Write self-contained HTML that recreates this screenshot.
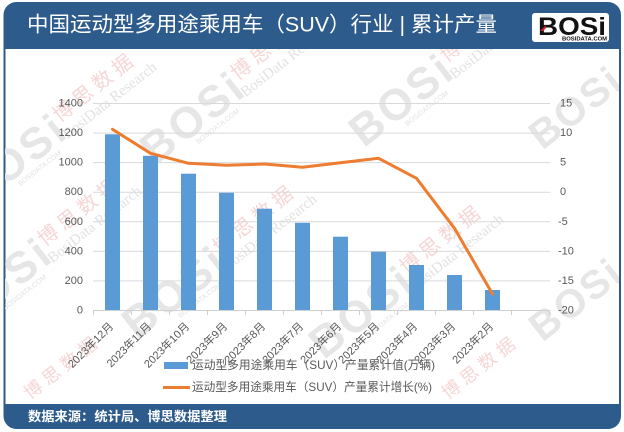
<!DOCTYPE html>
<html><head><meta charset="utf-8"><style>
html,body{margin:0;padding:0;background:#fff;width:624px;height:432px;overflow:hidden;}
svg{display:block;overflow:hidden;}
text{font-family:"Liberation Sans","Noto Sans CJK SC",sans-serif;}
</style></head><body>
<svg width="624" height="432" viewBox="0 0 624 432" xmlns="http://www.w3.org/2000/svg">
<defs>
<clipPath id="wa"><rect x="5" y="49" width="614" height="355"/></clipPath>
<g id="wm">
  <text x="0" y="0" text-anchor="middle" dominant-baseline="central" font-size="44" font-weight="bold" fill="#e6e6e6" letter-spacing="3">BOSi</text>
  <text x="-12" y="24" font-size="7" fill="#e2e2e2">BOSIDATA.COM</text>
  <text x="58" y="-2" font-size="20" fill="#f6d6d6" letter-spacing="5">博思数据</text>
  <text x="54" y="16" font-size="15" fill="#e2e2e2" style="font-family:'Liberation Serif',serif">BosiData Research</text>
</g>
</defs>
<rect width="624" height="432" fill="#fff"/>
<!-- frame -->
<rect x="3.5" y="2" width="617.5" height="427" rx="13" ry="13" fill="#2d5b8c"/>
<rect x="5.5" y="49" width="613.5" height="355" fill="#fff"/>

<!-- watermarks -->
<g clip-path="url(#wa)">
  <use href="#wm" transform="translate(15,160) rotate(-38)"/>
  <use href="#wm" transform="translate(193,118) rotate(-38)"/>
  <use href="#wm" transform="translate(402,100) rotate(-38)"/>
  <use href="#wm" transform="translate(0,284) rotate(-38)"/>
  <use href="#wm" transform="translate(175,292) rotate(-38)"/>
  <use href="#wm" transform="translate(362,312) rotate(-38)"/>
  <text transform="translate(576,108) rotate(-38)" text-anchor="middle" dominant-baseline="central" font-size="40" font-weight="bold" fill="#e6e6e6" letter-spacing="2">BOSi</text>
  <text transform="translate(576,300) rotate(-38)" text-anchor="middle" dominant-baseline="central" font-size="40" font-weight="bold" fill="#e6e6e6" letter-spacing="2">BOSi</text>
  <text transform="translate(448,400) rotate(-38)" font-size="18" fill="#f6d6d6" letter-spacing="5">博思数据</text>
  <text transform="translate(30,400) rotate(-38)" font-size="18" fill="#f6d6d6" letter-spacing="5">博思数据</text>
</g>

<!-- header title -->
<text x="27" y="25" dominant-baseline="central" font-size="21" fill="#fff" textLength="470" lengthAdjust="spacingAndGlyphs">中国运动型多用途乘用车（SUV）行业 | 累计产量</text>
<!-- logo -->
<rect x="532" y="13" width="77" height="29" rx="3" fill="#fff"/>
<text x="538" y="35" font-size="25" font-weight="bold" fill="#111" textLength="68" lengthAdjust="spacingAndGlyphs">BOSi</text>
<path d="M540 31 L546 25 L546 28 L543 31 Z" fill="#c8202a"/>
<text x="562" y="40.5" font-size="5.5" font-weight="bold" fill="#111" textLength="45" lengthAdjust="spacingAndGlyphs">BOSIDATA.COM</text>

<!-- gridlines -->
<g stroke="#d9d9d9" stroke-width="1">
  <line x1="93" x2="550" y1="103.5" y2="103.5"/>
  <line x1="93" x2="550" y1="133.1" y2="133.1"/>
  <line x1="93" x2="550" y1="162.6" y2="162.6"/>
  <line x1="93" x2="550" y1="192.2" y2="192.2"/>
  <line x1="93" x2="550" y1="221.8" y2="221.8"/>
  <line x1="93" x2="550" y1="251.4" y2="251.4"/>
  <line x1="93" x2="550" y1="280.9" y2="280.9"/>
</g>

<!-- bars -->
<g fill="#5b9bd5">
  <rect x="105" y="134.3" width="15" height="175.7"/>
  <rect x="143" y="155.8" width="15" height="154.2"/>
  <rect x="181" y="173.7" width="15" height="136.3"/>
  <rect x="219" y="192.7" width="15" height="117.3"/>
  <rect x="257" y="208.7" width="15" height="101.3"/>
  <rect x="295" y="222.8" width="15" height="87.2"/>
  <rect x="333" y="236.7" width="15" height="73.3"/>
  <rect x="371" y="251.7" width="15" height="58.3"/>
  <rect x="409" y="265.0" width="15" height="45.0"/>
  <rect x="447" y="275.0" width="15" height="35.0"/>
  <rect x="485" y="290.0" width="15" height="20.0"/>
</g>

<!-- x axis -->
<g stroke="#d0d0d0" stroke-width="1">
  <line x1="93" x2="550" y1="310.5" y2="310.5"/>
  <line x1="93.5" x2="93.5" y1="310" y2="315"/>
  <line x1="131.5" x2="131.5" y1="310" y2="315"/>
  <line x1="169.5" x2="169.5" y1="310" y2="315"/>
  <line x1="207.5" x2="207.5" y1="310" y2="315"/>
  <line x1="245.5" x2="245.5" y1="310" y2="315"/>
  <line x1="283.5" x2="283.5" y1="310" y2="315"/>
  <line x1="321.5" x2="321.5" y1="310" y2="315"/>
  <line x1="359.5" x2="359.5" y1="310" y2="315"/>
  <line x1="397.5" x2="397.5" y1="310" y2="315"/>
  <line x1="435.5" x2="435.5" y1="310" y2="315"/>
  <line x1="473.5" x2="473.5" y1="310" y2="315"/>
  <line x1="511.5" x2="511.5" y1="310" y2="315"/>
  <line x1="549.5" x2="549.5" y1="310" y2="315"/>
</g>

<!-- line series -->
<polyline fill="none" stroke="#ed7d31" stroke-width="3" stroke-linejoin="round" stroke-linecap="round"
 points="112.5,129.3 150.5,153.3 188.5,163.3 226.5,165.3 264.5,164 302.5,167.3 340.5,162.7 378.5,158.3 416.5,178.3 454.5,228.3 492.5,294"/>

<!-- left axis labels -->
<g font-size="11" fill="#595959" text-anchor="end" dominant-baseline="central">
  <text x="83" y="103.5">1400</text>
  <text x="83" y="133.1">1200</text>
  <text x="83" y="162.6">1000</text>
  <text x="83" y="192.2">800</text>
  <text x="83" y="221.8">600</text>
  <text x="83" y="251.4">400</text>
  <text x="83" y="280.9">200</text>
  <text x="83" y="310.5">0</text>
</g>
<!-- right axis labels -->
<g font-size="11" fill="#595959" dominant-baseline="central">
  <text x="560" y="103.5">15</text>
  <text x="560" y="133.1">10</text>
  <text x="560" y="162.6">5</text>
  <text x="560" y="192.2">0</text>
  <text x="558" y="221.8">-5</text>
  <text x="558" y="251.4">-10</text>
  <text x="558" y="280.9">-15</text>
  <text x="558" y="310.5">-20</text>
</g>

<!-- x labels -->
<g font-size="11" fill="#595959" text-anchor="end">
  <text transform="translate(114,327) rotate(-45)">2023年12月</text>
  <text transform="translate(152,327) rotate(-45)">2023年11月</text>
  <text transform="translate(190,327) rotate(-45)">2023年10月</text>
  <text transform="translate(228,327) rotate(-45)">2023年9月</text>
  <text transform="translate(266,327) rotate(-45)">2023年8月</text>
  <text transform="translate(304,327) rotate(-45)">2023年7月</text>
  <text transform="translate(342,327) rotate(-45)">2023年6月</text>
  <text transform="translate(380,327) rotate(-45)">2023年5月</text>
  <text transform="translate(418,327) rotate(-45)">2023年4月</text>
  <text transform="translate(456,327) rotate(-45)">2023年3月</text>
  <text transform="translate(494,327) rotate(-45)">2023年2月</text>
</g>

<!-- legend -->
<rect x="164" y="362" width="24" height="7" fill="#5b9bd5"/>
<text x="192" y="365.5" dominant-baseline="central" font-size="11.7" fill="#595959" textLength="243" lengthAdjust="spacingAndGlyphs">运动型多用途乘用车（SUV）产量累计值(万辆)</text>
<line x1="163" x2="190" y1="387.5" y2="387.5" stroke="#ed7d31" stroke-width="3"/>
<text x="192" y="387.5" dominant-baseline="central" font-size="11.7" fill="#595959" textLength="240" lengthAdjust="spacingAndGlyphs">运动型多用途乘用车（SUV）产量累计增长(%)</text>

<!-- footer -->
<text x="28" y="416.5" dominant-baseline="central" font-size="13" font-weight="bold" fill="#fff" textLength="199" lengthAdjust="spacingAndGlyphs">数据来源：统计局、博思数据整理</text>
</svg>
</body></html>
